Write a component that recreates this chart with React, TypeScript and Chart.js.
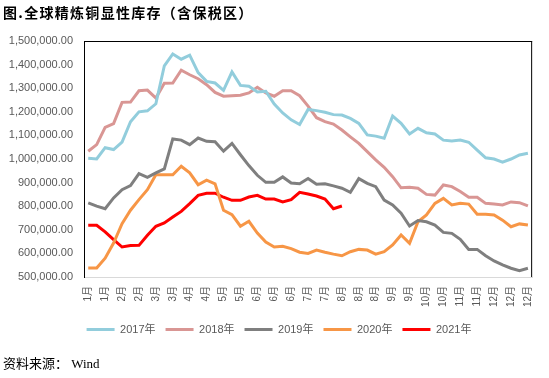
import React, { useEffect, useRef } from "react";
import { Chart, registerables } from "chart.js";

Chart.register(...registerables);

const TITLE = "图.全球精炼铜显性库存（含保税区）";
const SOURCE = "资料来源： Wind";

const weekLabels = [
  "1月", "1月", "1月", "1月", "2月", "2月", "2月", "2月", "3月", "3月", "3月", "3月",
  "4月", "4月", "4月", "4月", "5月", "5月", "5月", "5月", "6月", "6月", "6月", "6月", "6月",
  "7月", "7月", "7月", "7月", "8月", "8月", "8月", "8月", "8月", "8月", "9月", "9月", "9月", "9月",
  "10月", "10月", "10月", "10月", "11月", "11月", "11月", "11月",
  "12月", "12月", "12月", "12月", "12月", "12月",
];

const seriesNames = ["2017年", "2018年", "2019年", "2020年", "2021年"];
const seriesColors = ["#92CDDC", "#D99694", "#7F7F7F", "#F79646", "#FF0000"];

const y2017 = [
  1003000, 1000000, 1048000, 1040000, 1072000, 1158000, 1200000, 1204000, 1234000, 1395000,
  1445000, 1423000, 1440000, 1366000, 1329000, 1322000, 1291000, 1369000, 1312000, 1308000,
  1284000, 1287000, 1233000, 1195000, 1166000, 1146000, 1210000, 1205000, 1198000, 1188000,
  1186000, 1172000, 1151000, 1102000, 1097000, 1088000, 1182000, 1151000, 1106000, 1130000,
  1111000, 1106000, 1080000, 1076000, 1080000, 1071000, 1038000, 1005000, 1000000, 987000,
  1000000, 1017000, 1024000,
];
const y2018 = [
  1033000, 1061000, 1134000, 1150000, 1240000, 1241000, 1289000, 1292000, 1258000, 1321000,
  1322000, 1376000, 1357000, 1340000, 1315000, 1282000, 1266000, 1268000, 1270000, 1280000,
  1304000, 1280000, 1266000, 1289000, 1289000, 1268000, 1224000, 1175000, 1158000, 1148000,
  1123000, 1094000, 1066000, 1031000, 996000, 965000, 925000, 878000, 880000, 876000,
  850000, 847000, 890000, 883000, 862000, 838000, 838000, 812000, 809000, 805000,
  818000, 815000, 801000,
];
const y2019 = [
  814000, 800000, 789000, 835000, 870000, 887000, 938000, 922000, 941000, 958000,
  1085000, 1080000, 1061000, 1089000, 1075000, 1073000, 1033000, 1066000, 1018000, 972000,
  931000, 901000, 901000, 924000, 898000, 895000, 917000, 893000, 895000, 886000,
  876000, 859000, 917000, 897000, 883000, 826000, 805000, 770000, 716000, 739000,
  734000, 720000, 689000, 685000, 660000, 617000, 617000, 590000, 568000, 551000,
  537000, 527000, 537000,
];
const y2020 = [
  538000, 538000, 580000, 644000, 726000, 783000, 828000, 870000, 933000, 933000,
  933000, 969000, 941000, 891000, 910000, 895000, 783000, 764000, 715000, 736000,
  686000, 648000, 627000, 630000, 620000, 605000, 600000, 614000, 605000, 597000,
  590000, 607000, 617000, 614000, 597000, 607000, 636000, 678000, 643000, 734000,
  763000, 812000, 833000, 805000, 812000, 809000, 766000, 766000, 763000, 741000,
  713000, 725000, 720000,
];
const y2021 = [
  719000, 719000, 691000, 658000, 627000, 633000, 634000, 677000, 715000, 729000,
  754000, 778000, 811000, 846000, 855000, 855000, 838000, 825000, 825000, 839000,
  846000, 830000, 830000, 818000, 828000, 859000, 852000, 843000, 830000, 789000,
  801000,
];

const yMin = 500000;
const yMax = 1500000;
const yStep = 100000;

const FONT = '"Liberation Sans", "Noto Sans CJK SC", sans-serif';

const fmt = new Intl.NumberFormat("en-US", { minimumFractionDigits: 2, maximumFractionDigits: 2 });

const decorPlugin = {
  id: "decor",
  afterLayout(chart: any) {
    if (chart.legend) {
      chart.legend.left = 18;
    }
  },
  afterDraw(chart: any) {
    const ctx = chart.ctx as CanvasRenderingContext2D;
    const { left, right, top, bottom } = chart.chartArea;
    ctx.save();
    ctx.strokeStyle = "#000000";
    ctx.lineWidth = 1;
    ctx.beginPath();
    ctx.moveTo(left, top + 0.5);
    ctx.lineTo(right, top + 0.5);
    ctx.moveTo(right - 0.5, top);
    ctx.lineTo(right - 0.5, bottom);
    ctx.stroke();

    ctx.fillStyle = "#000000";
    ctx.textAlign = "left";
    ctx.textBaseline = "middle";
    ctx.font = 'bold 14px "Noto Sans CJK SC"';
    (ctx as any).letterSpacing = "1.3px";
    ctx.fillText(TITLE, 3, 13);
    (ctx as any).letterSpacing = "0px";
    ctx.font = '13px "Liberation Serif", "Noto Sans CJK SC"';
    ctx.fillText(SOURCE, 3, 365);
    ctx.restore();
  },
};

export default function App() {
  const canvasRef = useRef<HTMLCanvasElement | null>(null);

  useEffect(() => {
    if (!canvasRef.current) return;
    const allSeries = [y2017, y2018, y2019, y2020, y2021];
    const chart = new Chart(canvasRef.current, {
      type: "line",
      data: {
        labels: weekLabels,
        datasets: allSeries.map((d, i) => ({
          label: seriesNames[i],
          data: d,
          borderColor: seriesColors[i],
          backgroundColor: seriesColors[i],
          borderWidth: 3,
          pointRadius: 0,
          pointHoverRadius: 0,
          tension: 0,
          fill: false,
        })),
      },
      options: {
        animation: false,
        responsive: false,
        maintainAspectRatio: false,
        devicePixelRatio: 1,
        layout: { padding: { left: 0, right: 9, top: 41, bottom: 33 } },
        plugins: {
          title: { display: false },
          tooltip: { enabled: false },
          legend: {
            display: true,
            position: "bottom",
            labels: {
              boxWidth: 28,
              boxHeight: 3,
              padding: 10,
              color: "#595959",
              font: { size: 11, family: FONT },
              generateLabels: (c: any) =>
                Chart.defaults.plugins.legend.labels
                  .generateLabels(c)
                  .map((l: any) => ({ ...l, lineWidth: 0, fillStyle: l.strokeStyle })),
            },
          },
        },
        scales: {
          x: {
            type: "category",
            offset: true,
            grid: { display: false, drawTicks: false },
            border: { display: true, color: "#D9D9D9", width: 1 },
            ticks: {
              autoSkip: false,
              minRotation: 90,
              maxRotation: 90,
              padding: 9,
              color: "#595959",
              font: { size: 10, family: FONT },
              callback: function (this: any, val: any, idx: number) {
                return idx % 2 === 0 ? this.getLabelForValue(val) : "";
              },
            },
            afterFit: (s: any) => {
              s.height = 37;
            },
          },
          y: {
            min: yMin,
            max: yMax,
            grid: { display: false, drawTicks: false },
            border: { display: true, color: "#000000", width: 1 },
            ticks: {
              stepSize: yStep,
              padding: 11,
              color: "#595959",
              font: { size: 11, family: FONT },
              callback: (v: any) => fmt.format(Number(v)),
            },
            afterFit: (s: any) => {
              s.width = 84;
            },
          },
        },
      },
      plugins: [decorPlugin],
    });
    return () => chart.destroy();
  }, []);

  return (
    <div style={{ position: "fixed", left: 0, top: 0, width: 549, height: 378, background: "#ffffff" }}>
      <canvas ref={canvasRef} width={549} height={378} style={{ width: 549, height: 378, display: "block" }} />
    </div>
  );
}
